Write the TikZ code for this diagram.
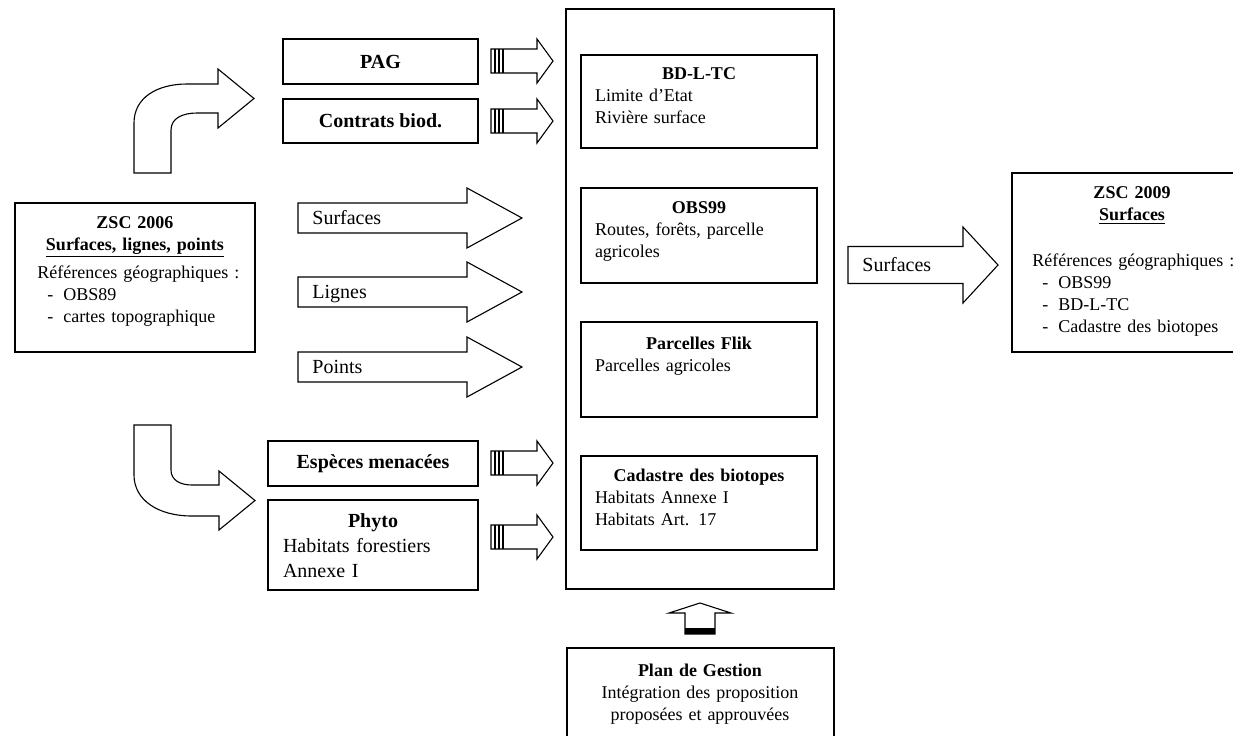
\documentclass[tikz,border=0pt]{standalone}
\usepackage{fontspec}
\setmainfont{Liberation Serif}
\usetikzlibrary{positioning}

\begin{document}
\begin{tikzpicture}[x=0.5pt, y=-0.5pt,
  frame/.style={draw, line width=0.8pt, inner sep=0pt},
  blk/.style={draw, line width=0.55pt, line join=miter, fill=white},
  txt/.style={inner sep=0pt, font=\fontsize{9}{11}\selectfont},
  big/.style={inner sep=0pt, font=\fontsize{10}{12.5}\selectfont},
  ttl/.style={inner sep=0pt, font=\fontsize{10}{12.5}\selectfont\bfseries}
]
\useasboundingbox (0,0) rectangle (1233,735);

% left: source layer
\node[frame, minimum width=120pt, minimum height=74.5pt] (zsc06) at (135,277.5) {};
\node[txt, anchor=base, text width=110pt, align=center] (zsc06-t) at (135,228)
  {\textbf{ZSC 2006}\\ \underline{\textbf{Surfaces, lignes, points}}};
\node[txt, anchor=base west, text width=105pt, align=left] (zsc06-r) at (37,278)
  {Références géographiques :\\ \hspace*{5pt}-\hspace{5pt}OBS89\\
   \hspace*{5pt}-\hspace{5pt}cartes topographique};

% bent arrows
\draw[blk] (134,173) -- (134,123) .. controls (134,97) and (158,84) .. (187,84)
  -- (218,84) -- (218,69) -- (254,98.5) -- (218,128) -- (218,113) -- (197,113)
  .. controls (183,113) and (171,118) .. (171,130) -- (171,173) -- cycle;
\draw[blk] (134,425) -- (171,425) -- (171,470) .. controls (171,480) and (180,485) .. (192,485)
  -- (219,485) -- (219,471) -- (255,500.5) -- (219,530) -- (219,516) -- (192,516)
  .. controls (158,516) and (134,500) .. (134,475) -- cycle;

% thematic layers
\node[frame, ttl, minimum width=97.5pt, minimum height=22.5pt] (pag) at (380.5,61.5) {PAG};
\node[frame, ttl, minimum width=97.5pt, minimum height=22pt] (contrats) at (380.5,121) {Contrats biod.};
\node[frame, ttl, minimum width=105pt, minimum height=22.5pt] (especes) at (373,463.5) {Espèces menacées};
\node[frame, minimum width=105pt, minimum height=45pt] (phyto) at (373,545) {};
\node[big, anchor=base, text width=90pt, align=left] (phyto-t) at (373,527)
  {\makebox[\linewidth]{\bfseries Phyto}\\ Habitats forestiers\\ Annexe I};

% geometry arrows
\foreach \y/\lbl [count=\i] in {218/Surfaces, 292/Lignes, 367/Points} {
  \draw[blk] (298,\y-15) -- (467,\y-15) -- (467,\y-30) -- (522,\y)
    -- (467,\y+30) -- (467,\y+15) -- (298,\y+15) -- cycle;
  \node[big, anchor=base west] (geom\i) at (312,\y+6) {\lbl};
}

% striped arrows
\foreach \y in {61,121,463,537} {
  \draw[blk] (491,\y-12) -- (537,\y-12) -- (537,\y-22) -- (553,\y)
    -- (537,\y+22) -- (537,\y+12) -- (491,\y+12) -- cycle;
  \foreach \s in {495,499,503}
    \draw[line width=0.55pt] (\s,\y-12) -- (\s,\y+12);
}

% reference layers
\node[frame, minimum width=134pt, minimum height=290pt] (geo) at (700,299) {};
\node[frame, minimum width=118pt, minimum height=46.5pt] (bdltc) at (699,101.5) {};
\node[frame, minimum width=118pt, minimum height=47.5pt] (obs) at (699,235.5) {};
\node[frame, minimum width=118pt, minimum height=47.5pt] (flik) at (699,369.5) {};
\node[frame, minimum width=118pt, minimum height=47pt] (biotop) at (699,503) {};

\node[txt, anchor=base, text width=104pt, align=left] (bdltc-t) at (699,79)
  {\makebox[\linewidth]{\bfseries BD-L-TC}\\ Limite d'Etat\\ Rivière surface};
\node[txt, anchor=base, text width=104pt, align=left] (obs-t) at (699,213)
  {\makebox[\linewidth]{\bfseries OBS99}\\ Routes, forêts, parcelle\\ agricoles};
\node[txt, anchor=base, text width=104pt, align=left] (flik-t) at (699,349)
  {\makebox[\linewidth]{\bfseries Parcelles Flik}\\ Parcelles agricoles};
\node[txt, anchor=base, text width=104pt, align=left] (biotop-t) at (699,481)
  {\makebox[\linewidth]{\bfseries Cadastre des biotopes}\\ Habitats Annexe I\\ Habitats Art. 17};

% management plan
\draw[blk] (685,634) -- (685,613) -- (669,613) -- (700,603) -- (731,613)
  -- (715,613) -- (715,634) -- cycle;
\fill (685,628) rectangle (715,634);
\node[frame, minimum width=133.5pt, minimum height=56pt] (gestion) at (700.5,704) {};
\node[txt, anchor=base, text width=130pt, align=center] (gestion-t) at (700,676)
  {\textbf{Plan de Gestion}\\ Intégration des proposition\\ proposées et approuvées};

% result
\draw[blk] (848,246.5) -- (963,246.5) -- (963,227) -- (998,265) -- (963,303)
  -- (963,283.5) -- (848,283.5) -- cycle;
\node[big, anchor=base west] (res) at (862,271) {Surfaces};
\node[frame, minimum width=120pt, minimum height=89.5pt] (zsc09) at (1132,262.5) {};
\node[txt, anchor=base, text width=110pt, align=center] (zsc09-t) at (1132,198)
  {\textbf{ZSC 2009}\\ \underline{\textbf{Surfaces}}};
\node[txt, anchor=base west, text width=105pt, align=left] (zsc09-r) at (1032,266)
  {Références géographiques :\\ \hspace*{5pt}-\hspace{5pt}OBS99\\
   \hspace*{5pt}-\hspace{5pt}BD-L-TC\\ \hspace*{5pt}-\hspace{5pt}Cadastre des biotopes};
\end{tikzpicture}
\end{document}
